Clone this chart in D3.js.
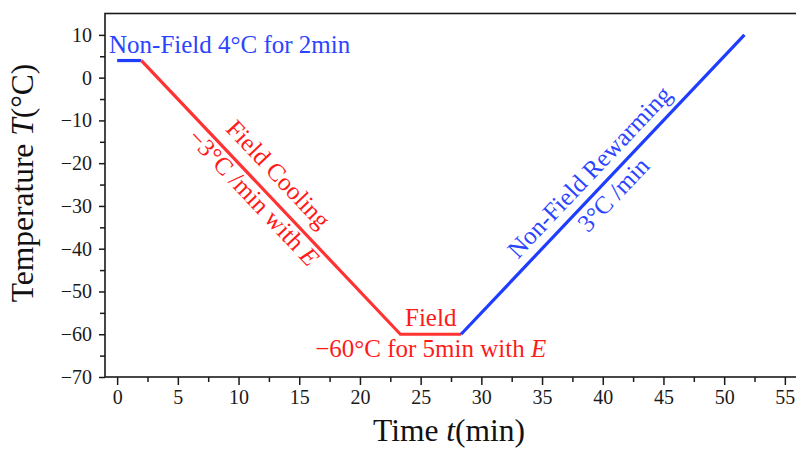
<!DOCTYPE html>
<html>
<head>
<meta charset="utf-8">
<script src="https://cdn.jsdelivr.net/npm/d3@7"></script>
<style>
  html, body { margin: 0; padding: 0; background: #fff; }
  svg { display: block; }
  text { font-family: "Liberation Serif", "Times New Roman", serif; }
</style>
</head>
<body>
<svg id="chart" width="796" height="454"></svg>
<script>
// ---- data ----
const times = [0, 2, 23.33, 28.33, 51.67];          // min
const temps = [4, 4, -60, -60, 10];                  // °C
const fieldOn = [false, true, true, false];          // per segment
const xTicks = [0, 5, 10, 15, 20, 25, 30, 35, 40, 45, 50, 55];
const yTicks = [-70, -60, -50, -40, -30, -20, -10, 0, 10];

const W = 796, H = 454;
const m = { left: 105, right: -1, top: 13.5, bottom: 77 };
const svg = d3.select("#chart");

const x = d3.scaleLinear().domain([-1, 56]).range([m.left, W - m.right]);
const y = d3.scaleLinear().domain([-70, 15]).range([H - m.bottom, m.top]);

const RED = "#ff3333", BLUE = "#1f3dff";
const RED_T = "#ff1a1a", BLUE_T = "#2b44ff";
const AF = "25px";

// frame
svg.append("rect")
  .attr("x", x(-1)).attr("y", y(15))
  .attr("width", x(56) - x(-1)).attr("height", y(-70) - y(15))
  .attr("fill", "none").attr("stroke", "#1a1a1a").attr("stroke-width", 1.6);

// x axis
const xMinor = d3.range(-0, 56, 2.5).filter(v => !xTicks.includes(v));
const gx = svg.append("g").attr("transform", `translate(0,${y(-70)})`);
gx.call(d3.axisBottom(x).tickValues(xTicks).tickSize(8).tickPadding(5).tickFormat(d3.format("d")));
gx.append("g").call(d3.axisBottom(x).tickValues(xMinor).tickSize(5).tickFormat(""));
// y axis
const yMinor = d3.range(-65, 15, 10);
const gy = svg.append("g").attr("transform", `translate(${x(-1)},0)`);
gy.call(d3.axisLeft(y).tickValues(yTicks).tickSize(6).tickPadding(7).tickFormat(d3.format("d")));
gy.append("g").call(d3.axisLeft(y).tickValues(yMinor).tickSize(5).tickFormat(""));

svg.selectAll(".domain").remove();
svg.selectAll(".tick line").attr("stroke", "#1a1a1a").attr("stroke-width", 1.5);
svg.selectAll(".tick text").attr("fill", "#1a1a1a")
  .style("font-family", '"Liberation Serif", serif').style("font-size", "20px");

// axis titles
const xt = svg.append("text").attr("x", 449).attr("y", 441)
  .attr("text-anchor", "middle").style("font-size", "31.5px").attr("fill", "#111");
xt.append("tspan").text("Time ");
xt.append("tspan").attr("font-style", "italic").text("t");
xt.append("tspan").text("(min)");

const yt = svg.append("text").attr("transform", "translate(33,183) rotate(-90)")
  .attr("text-anchor", "middle").style("font-size", "31.5px").attr("fill", "#111");
yt.append("tspan").text("Temperature ");
yt.append("tspan").attr("font-style", "italic").text("T");
yt.append("tspan").text("(°C)");

// lines, grouped by field state
const pts = times.map((t, i) => [t, temps[i]]);
const line = d3.line().x(d => x(d[0])).y(d => y(d[1]));
let groups = [];
fieldOn.forEach((f, i) => {
  const last = groups[groups.length - 1];
  if (last && last.f === f) last.p.push(pts[i + 1]);
  else groups.push({ f, p: [pts[i], pts[i + 1]] });
});
svg.selectAll("path.seg").data(groups).join("path")
  .attr("class", "seg")
  .attr("d", d => line(d.p))
  .attr("fill", "none")
  .attr("stroke", d => d.f ? RED : BLUE)
  .attr("stroke-width", 3.2)
  .attr("stroke-linejoin", "round")
  .attr("stroke-linecap", "butt");

// annotations
function along(i0, t) {
  const t0 = times[i0], t1 = times[i0 + 1];
  const v = temps[i0] + (temps[i0 + 1] - temps[i0]) * (t - t0) / (t1 - t0);
  const ang = Math.atan2(y(temps[i0 + 1]) - y(temps[i0]), x(t1) - x(t0)) * 180 / Math.PI;
  return { px: x(t), py: y(v), ang };
}
function rich(sel, parts) {
  parts.forEach(p => {
    const ts = sel.append("tspan").text(p.t);
    if (p.i) ts.attr("font-style", "italic");
  });
}

// Non-Field hold
const a0 = svg.append("text").attr("x", 109).attr("y", 53)
  .style("font-size", AF).attr("fill", BLUE_T);
rich(a0, [{ t: "Non-Field 4°C for 2min" }]);

// Field cooling
const c = along(1, 12);
const gc = svg.append("g").attr("transform", `translate(${c.px},${c.py}) rotate(${c.ang})`);
rich(gc.append("text").attr("y", -13).attr("text-anchor", "middle")
  .style("font-size", AF).attr("fill", RED_T), [{ t: "Field Cooling" }]);
rich(gc.append("text").attr("y", 21).attr("text-anchor", "middle")
  .style("font-size", AF).attr("fill", RED_T), [{ t: "−3°C /min with " }, { t: "E", i: true }]);

// Field hold
const hx = x((times[2] + times[3]) / 2);
rich(svg.append("text").attr("x", hx).attr("y", 326).attr("text-anchor", "middle")
  .style("font-size", AF).attr("fill", RED_T), [{ t: "Field" }]);
rich(svg.append("text").attr("x", hx).attr("y", 357).attr("text-anchor", "middle")
  .style("font-size", AF).attr("fill", RED_T), [{ t: "−60°C for 5min with " }, { t: "E", i: true }]);

// Non-field rewarming
const r = along(3, 40);
const gr = svg.append("g").attr("transform", `translate(${r.px},${r.py}) rotate(${r.ang})`);
rich(gr.append("text").attr("y", -10).attr("text-anchor", "middle")
  .style("font-size", AF).attr("fill", BLUE_T), [{ t: "Non-Field Rewarming" }]);
rich(gr.append("text").attr("y", 23).attr("text-anchor", "middle")
  .style("font-size", AF).attr("fill", BLUE_T), [{ t: "3°C /min" }]);
</script>
</body>
</html>
